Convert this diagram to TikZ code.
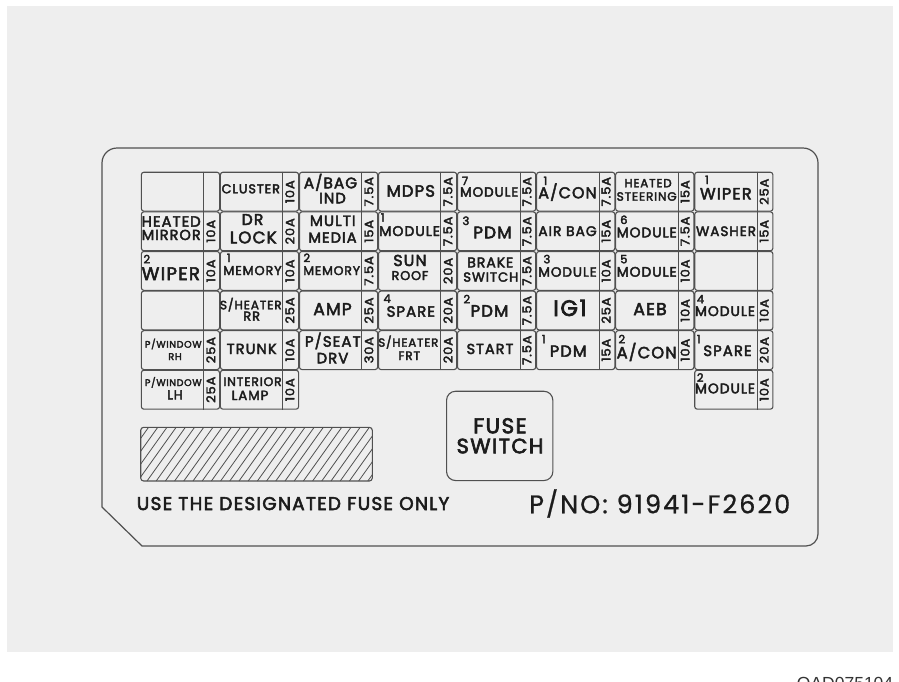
\documentclass[tikz,border=0pt]{standalone}
\usepackage{fontspec}
\setmainfont{Poppins}
\newfontfamily\cellf{Poppins}[LetterSpace=7,FakeBold=3]
\newfontfamily\plainf{Poppins}[LetterSpace=8,FakeBold=0.8]
\newfontfamily\arialf{Liberation Sans}
\usepackage{graphicx}
\definecolor{linec}{HTML}{505050}
\definecolor{txtc}{HTML}{1C1C1C}
\definecolor{bgc}{HTML}{EEEEEE}
\newcommand\ampfont{\fontsize{12}{13}\cellf}
\newcommand\numfont{\fontsize{11.5}{12}\cellf}
\tikzset{
  cellbox/.style={draw=linec, line width=1.1pt, rounded corners=2.5pt, minimum width=78.2pt, minimum height=38.9pt, inner sep=0pt, anchor=north west},
  divline/.style={draw=linec, line width=1pt},
  amptxt/.style={rotate=90, inner sep=0pt, font=\ampfont, text=txtc},
  txt/.style={inner sep=0pt, anchor=base, text=txtc, font=\cellf},
  numtxt/.style={inner sep=0pt, anchor=base west, font=\numfont, text=txtc},
  panel/.style={draw=linec, line width=1.2pt},
  hatchl/.style={draw=linec, line width=0.8pt},
}
\newcommand\fuse[3]{%
  \pgfmathsetmacro\fx{140.8+79.05*#2}%
  \pgfmathsetmacro\fy{171.7+39.6*#1}%
  \node[cellbox] (f#1#2) at (\fx,\fy) {};
  \draw[divline] ([xshift=63pt]f#1#2.north west) -- ([xshift=63pt]f#1#2.south west);
  \node[amptxt] (a#1#2) at ([xshift=70pt]f#1#2.west) {\scalebox{1.08}[1]{#3}};
}
\newcommand\tx[5]{\node[txt] (#1) at (#2,#3) {\resizebox{#4pt}{!}{#5}};}
\newcommand\nm[4]{\node[numtxt] (#1) at (#2,#3) {#4};}
\begin{document}
\begin{tikzpicture}[x=1pt,y=-1pt]
\useasboundingbox (0,0) rectangle (899,681);
\fill[white] (0,0) rectangle (899,681);
\fill[bgc] (7,6) rectangle (893,652);
% outer panel
\draw[panel] (102,507) -- (102,163) .. controls (102,154.7) and (108.7,148) .. (117,148)
  -- (803,148) .. controls (811.3,148) and (818,154.7) .. (818,163)
  -- (818,534) .. controls (818,540.6) and (812.6,546) .. (806,546)
  -- (142,546) -- cycle;
% fuses
\fuse{0}{0}{}\fuse{0}{1}{10A}\fuse{0}{2}{7.5A}\fuse{0}{3}{7.5A}\fuse{0}{4}{7.5A}\fuse{0}{5}{7.5A}\fuse{0}{6}{15A}\fuse{0}{7}{25A}
\fuse{1}{0}{10A}\fuse{1}{1}{20A}\fuse{1}{2}{15A}\fuse{1}{3}{7.5A}\fuse{1}{4}{7.5A}\fuse{1}{5}{15A}\fuse{1}{6}{7.5A}\fuse{1}{7}{15A}
\fuse{2}{0}{10A}\fuse{2}{1}{10A}\fuse{2}{2}{7.5A}\fuse{2}{3}{20A}\fuse{2}{4}{7.5A}\fuse{2}{5}{10A}\fuse{2}{6}{10A}\fuse{2}{7}{}
\fuse{3}{0}{}\fuse{3}{1}{25A}\fuse{3}{2}{25A}\fuse{3}{3}{20A}\fuse{3}{4}{7.5A}\fuse{3}{5}{25A}\fuse{3}{6}{10A}\fuse{3}{7}{10A}
\fuse{4}{0}{25A}\fuse{4}{1}{10A}\fuse{4}{2}{30A}\fuse{4}{3}{20A}\fuse{4}{4}{7.5A}\fuse{4}{5}{15A}\fuse{4}{6}{10A}\fuse{4}{7}{20A}
\fuse{5}{0}{25A}\fuse{5}{1}{10A}\fuse{5}{7}{10A}
% row 0
\tx{t01}{250.8}{193.3}{58.3}{CLUSTER}
\tx{t02a}{330.5}{188.3}{53.3}{A/BAG}
\tx{t02b}{332.5}{203.3}{26.7}{IND}
\tx{t03}{410.8}{196.7}{48.3}{MDPS}
\nm{n04}{461.7}{185}{7}\tx{t04}{489.2}{196.7}{58.3}{MODULE}
\nm{n05}{543.3}{185}{1}\tx{t05}{567.5}{198.3}{58.3}{A/CON}
\tx{t06a}{648}{187.3}{47.3}{HEATED}\tx{t06b}{646.7}{200.7}{60}{STEERING}
\nm{n07}{705}{184}{1}\tx{t07}{725.8}{199.3}{51.7}{WIPER}
% row 1
\tx{t10a}{171.2}{226.7}{59}{HEATED}\tx{t10b}{171.2}{240}{59}{MIRROR}
\tx{t11a}{252.5}{225}{21.7}{DR}\tx{t11b}{253.3}{243.3}{46.7}{LOCK}
\tx{t12a}{332.8}{226}{45.7}{MULTI}\tx{t12b}{332.5}{242.7}{48.3}{MEDIA}
\nm{n13}{380.7}{221.7}{1}\tx{t13}{409.7}{236}{60.7}{MODULE}
\nm{n14}{462.3}{225}{3}\tx{t14}{492.5}{238.3}{38.3}{PDM}
\tx{t15}{567.5}{236}{58.3}{AIR BAG}
\nm{n16}{620}{224}{6}\tx{t16}{646.7}{237.3}{60}{MODULE}
\tx{t17}{726}{236}{60}{WASHER}
% row 2
\nm{n20}{143.3}{263.3}{2}\tx{t20}{170.8}{280}{58.3}{WIPER}
\nm{n21}{226.7}{262}{1}\tx{t21}{252.5}{275}{58.3}{MEMORY}
\nm{n22}{303.3}{262}{2}\tx{t22}{331.7}{275}{56.7}{MEMORY}
\tx{t23a}{410}{266}{33.3}{SUN}\tx{t23b}{410}{280}{36.7}{ROOF}
\tx{t24a}{490.3}{267.3}{46}{BRAKE}\tx{t24b}{490.8}{281.7}{55}{SWITCH}
\nm{n25}{543.3}{263.3}{3}\tx{t25}{567.5}{276.7}{58.3}{MODULE}
\nm{n26}{620}{263.3}{5}\tx{t26}{646.7}{276.7}{60}{MODULE}
% row 3
\tx{t31a}{250.8}{309.3}{61.7}{S/HEATER}\tx{t31b}{251.7}{320.7}{16.7}{RR}
\tx{t32}{332.5}{315}{38.3}{AMP}
\nm{n33}{383.3}{302.7}{4}\tx{t33}{410.8}{316.7}{48.3}{SPARE}
\nm{n34}{463.3}{303.3}{2}\tx{t34}{489.5}{316.7}{37.7}{PDM}
\tx{t35}{570}{316}{33.3}{IG1}
\tx{t36}{650}{315}{33.3}{AEB}
\nm{n37}{696.7}{303.3}{4}\tx{t37}{725}{316}{60}{MODULE}
% row 4
\tx{t40a}{173.3}{347.7}{56.7}{P/WINDOW}\tx{t40b}{175}{360}{13.3}{RH}
\tx{t41}{251.7}{354}{50}{TRUNK}
\tx{t42a}{332.8}{346.7}{55.7}{P/SEAT}\tx{t42b}{332.5}{363.3}{31.7}{DRV}
\tx{t43a}{408.3}{346.7}{60}{S/HEATER}\tx{t43b}{409.2}{360}{21.7}{FRT}
\tx{t44}{490}{354}{46.7}{START}
\nm{n45}{541.7}{343.3}{1}\tx{t45}{568.3}{356.7}{36.7}{PDM}
\nm{n46}{618.3}{343.3}{2}\tx{t46}{646.7}{358.3}{60}{A/CON}
\nm{n47}{696.7}{343.3}{1}\tx{t47}{727.5}{356}{48.3}{SPARE}
% row 5
\tx{t50a}{173.3}{386}{56.7}{P/WINDOW}\tx{t50b}{175}{399.3}{15.3}{LH}
\tx{t51a}{252.5}{386}{58.3}{INTERIOR}\tx{t51b}{250}{400}{36.7}{LAMP}
\nm{n57}{696.7}{381.7}{2}\tx{t57}{725}{393.3}{60}{MODULE}
% hatched label
\begin{scope}
  \clip[rounded corners=3pt] (140.7,427.3) rectangle (372.3,481);
  \foreach \i in {0,...,30} { \draw[hatchl] (101+9.2*\i,481) -- ++(40,-56); }
\end{scope}
\draw[draw=linec, line width=1.1pt, rounded corners=3pt] (140.7,427.3) rectangle (372.3,481);
% fuse switch
\node[cellbox, rounded corners=9pt, minimum width=106.3pt, minimum height=89.3pt] (fsw) at (446,390.7) {};
\tx{fsw1}{500}{433.3}{53.3}{FUSE}
\tx{fsw2}{500}{453.3}{86.7}{SWITCH}
% bottom texts
\node[txt, anchor=base west] (use) at (136.7,510) {\resizebox{312.3pt}{!}{USE THE DESIGNATED FUSE ONLY}};
\node[txt, anchor=base west, font=\plainf] (pno) at (529,513.3) {\resizebox{261pt}{!}{P/NO: 91941-F2620}};
\node[inner sep=0pt, anchor=base west, text={black!80}, font=\arialf] (oad) at (796.7,689.5) {\resizebox{96.3pt}{!}{OAD075104}};
\end{tikzpicture}
\end{document}
